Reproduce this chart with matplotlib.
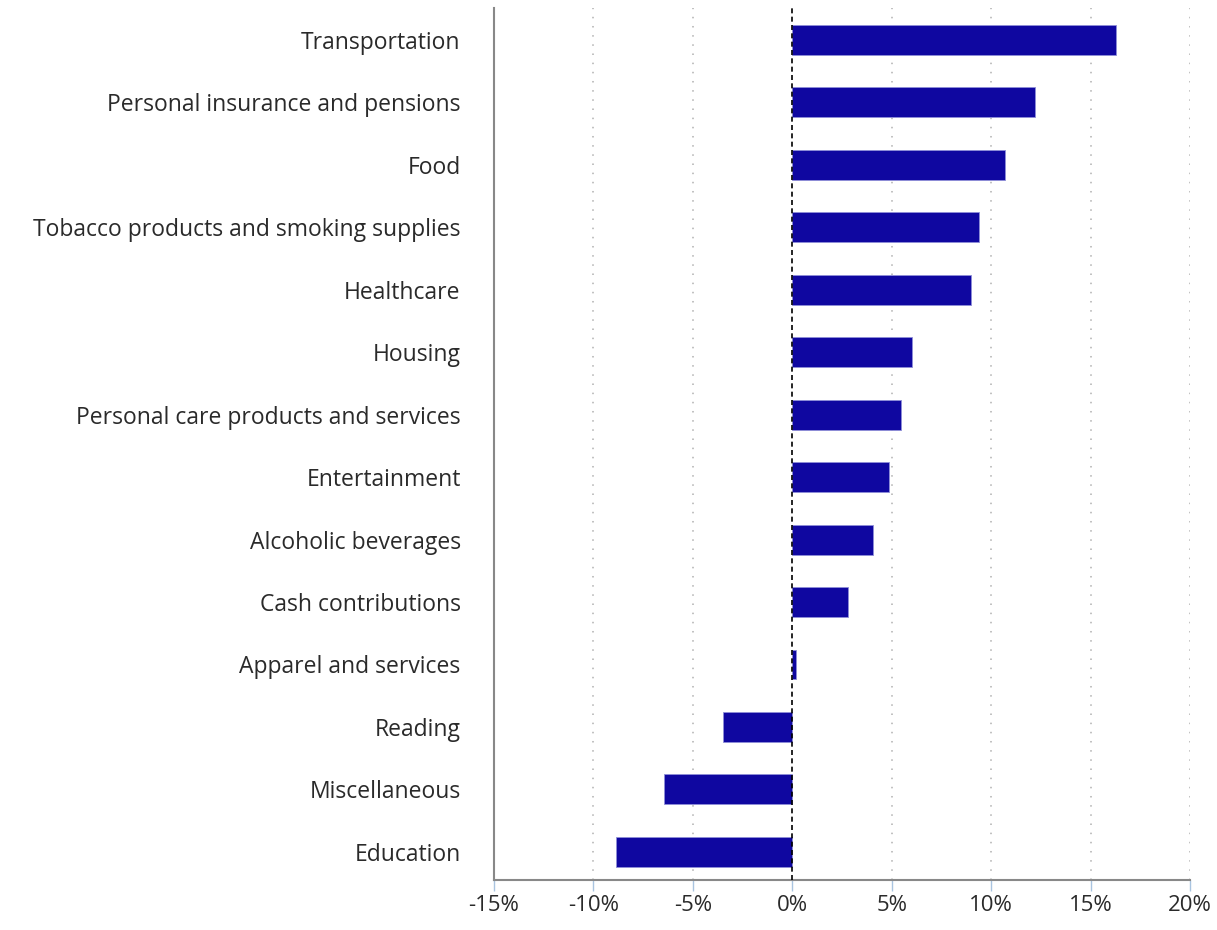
import matplotlib
matplotlib.use("Agg")
import matplotlib.pyplot as plt
from matplotlib.ticker import FuncFormatter

categories = ["Transportation", "Personal insurance and pensions", "Food",
              "Tobacco products and smoking supplies", "Healthcare", "Housing",
              "Personal care products and services", "Entertainment",
              "Alcoholic beverages", "Cash contributions", "Apparel and services",
              "Reading", "Miscellaneous", "Education"]
values = [16.3, 12.2, 10.7, 9.4, 9.0, 6.0, 5.45, 4.85, 4.05, 2.8, 0.2, -3.5, -6.45, -8.85]
xticks = [-15, -10, -5, 0, 5, 10, 15, 20]

plt.rcParams['font.family'] = ['Open Sans', 'DejaVu Sans']

fig = plt.figure(figsize=(12.17, 9.30), dpi=100)
ax = fig.add_axes([494/1217, 1-880/930, (1190-494)/1217, (880-8)/930])

pos = list(range(len(categories)))
ax.barh(pos, values, height=0.48, color="#0f07a0", edgecolor="#8f8fd8", linewidth=0.6, zorder=3)
ax.axvline(0, color="black", linestyle=(0, (3, 2)), linewidth=1.2, zorder=4)

ax.set_xlim(-15, 20)
ax.set_ylim(13.45, -0.51)
ax.set_xticks(xticks)
ax.xaxis.set_major_formatter(FuncFormatter(lambda v, p: f"{v:.0f}%"))
ax.set_yticks(pos)
ax.set_yticklabels(categories)
ax.tick_params(axis="y", length=0, pad=24, labelsize=16.5, labelcolor="#2a2a2a")
ax.tick_params(axis="x", length=8, color="#a9c4e0", width=1, labelsize=16, labelcolor="#2a2a2a", pad=3)

for x in xticks[1:]:
    if x != 0:
        ax.axvline(x, color="#b0b0b0", linestyle=(0, (1, 5)), linewidth=1.1, zorder=1)

for s in ["top", "right"]:
    ax.spines[s].set_visible(False)
ax.spines["left"].set_color("#888888")
ax.spines["left"].set_linewidth(1.5)
ax.spines["bottom"].set_color("#888888")
ax.spines["bottom"].set_linewidth(1.5)

fig.savefig("out.png", dpi=100)
